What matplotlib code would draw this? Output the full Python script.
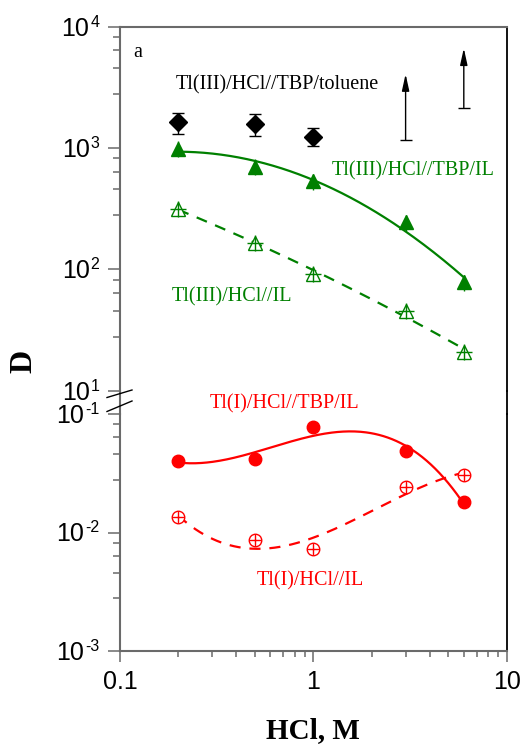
import numpy as np
import matplotlib
matplotlib.use("Agg")
import matplotlib.pyplot as plt
from matplotlib.lines import Line2D

plt.rcParams["font.family"] = ["Liberation Sans", "DejaVu Sans"]

# ---- data -------------------------------------------------------------
hcl = [0.2, 0.5, 1.0, 3.0, 6.0]

# Tl(III)/HCl//TBP/toluene (measured points, lower limits at high HCl)
tol_x = [0.2, 0.5, 1.0]
tol_d = [1630, 1570, 1240]
tol_lo = [1300, 1260, 1030]
tol_hi = [1950, 1900, 1460]
tol_lim_x = [3.0, 6.0]
tol_lim_d = [1160, 2150]
tol_lim_tip = [4070, 6640]

# Tl(III)/HCl//TBP/IL
tl3_tbp = [990, 700, 530, 245, 78]
# Tl(III)/HCl//IL
tl3_il = [315, 165, 92, 45, 21]
# Tl(I)/HCl//TBP/IL
tl1_tbp = [0.040, 0.042, 0.077, 0.049, 0.018]
# Tl(I)/HCl//IL
tl1_il = [0.0134, 0.0087, 0.0072, 0.0241, 0.0305]

top_exp = [1, 2, 3, 4]
bot_exp = [-3, -2, -1]
x_ticks = [0.1, 1, 10]
x_ticklabels = ["0.1", "1", "10"]

GREEN = "#008000"
RED = "#ff0000"
GRAY = "#6a6a6a"
W, H = 520, 748


def fx(px):
    return px / W


def fy(py):
    return 1 - py / H


fig = plt.figure(figsize=(5.2, 7.48), dpi=100)
ax_top = fig.add_axes([fx(120), fy(390.7), fx(506.7) - fx(120), fy(26.7) - fy(390.7)])
ax_bot = fig.add_axes([fx(120), fy(651), fx(506.7) - fx(120), fy(414) - fy(651)],
                      sharex=ax_top)

for ax in (ax_top, ax_bot):
    ax.set_xscale("log")
    ax.set_yscale("log")
    ax.set_xlim(0.1, 10)
    for s in ("left", "top", "bottom"):
        ax.spines[s].set_color(GRAY)
        ax.spines[s].set_linewidth(1.5)
    ax.spines["right"].set_color("black")
    ax.spines["right"].set_linewidth(1.3)
    ax.tick_params(axis="y", which="major", direction="out", length=8.5, width=1.1,
                   color=GRAY, right=False, labelleft=False)
    ax.tick_params(axis="y", which="minor", direction="out", length=5, width=1.1,
                   color=GRAY, right=False, labelleft=False)

ax_top.spines["bottom"].set_visible(False)
ax_bot.spines["top"].set_visible(False)
ax_top.set_ylim(10, 1e4)
ax_bot.set_ylim(1e-3, 1e-1)

# minor ticks sit at fixed fractions of a decade below each major tick
frac = np.array([0.085, 0.195, 0.34, 0.555])
ax_top.set_yticks([10.0 ** e for e in top_exp])
ax_top.set_yticks([10.0 ** (e - f) for e in top_exp[1:] for f in frac], minor=True)
ax_bot.set_yticks([10.0 ** e for e in bot_exp])
ax_bot.set_yticks([10.0 ** (e - f) for e in bot_exp[1:] for f in frac], minor=True)


def decade_labels(ax, exps):
    # "10" centred on the tick, small exponent raised to its right
    ytrans = ax.get_yaxis_transform()
    for e in exps:
        y = 10.0 ** e
        sup = ax.annotate(str(e), xy=(0, y), xycoords=ytrans,
                          xytext=(-15, 0), textcoords="offset points",
                          ha="right", va="baseline", fontsize=11.5)
        ax.annotate("10", xy=(0, y), xycoords=(sup, ytrans),
                    xytext=(-0.5, -6.4), textcoords="offset points",
                    ha="right", va="baseline", fontsize=18)


decade_labels(ax_top, top_exp)
decade_labels(ax_bot, bot_exp)

ax_top.tick_params(axis="x", which="both", bottom=False, top=False, labelbottom=False)
ax_bot.set_xticks(x_ticks)
ax_bot.set_xticklabels(x_ticklabels)
ax_bot.tick_params(axis="x", which="major", direction="out", length=8, width=1.1,
                   color=GRAY, labelsize=18, pad=6, top=False)
ax_bot.tick_params(axis="x", which="minor", direction="out", length=4.3, width=1.1,
                   color=GRAY, top=False)
ax_bot.xaxis.set_minor_formatter(plt.NullFormatter())

# bridge the axis lines across the break and draw the break marks
fig.add_artist(Line2D([fx(120), fx(120)], [fy(390.7), fy(414)], color=GRAY, lw=1.5))
fig.add_artist(Line2D([fx(506.7), fx(506.7)], [fy(390.7), fy(414)], color="black", lw=1.3))
fig.add_artist(Line2D([fx(107), fx(132)], [fy(397.5), fy(390)], color="black", lw=1.0))
fig.add_artist(Line2D([fx(107), fx(132)], [fy(411.5), fy(401)], color="black", lw=1.0))

# ---- smooth curves through each series (polynomials in log-log space) ----
xs = np.logspace(np.log10(hcl[0]), np.log10(hcl[-1]), 200)
lx = np.log10(hcl)


def smooth(vals, deg):
    c = np.polyfit(lx, np.log10(vals), deg)
    return 10 ** np.polyval(c, np.log10(xs))


ax_top.plot(xs, smooth(tl3_tbp, 2), color=GREEN, lw=1.6, zorder=2)
ax_top.plot(xs, smooth(tl3_il, 2), color=GREEN, lw=1.6, ls=(0, (5, 4)), zorder=2)
ax_bot.plot(xs, smooth(tl1_tbp, 3), color=RED, lw=1.6, zorder=2)
ax_bot.plot(xs, smooth(tl1_il, 3), color=RED, lw=1.6, ls=(0, (5, 4)), zorder=2)

# ---- markers -------------------------------------------------------------
tl3_tbp_err = np.array(tl3_tbp) * 0.15
ax_top.errorbar(hcl, tl3_tbp, yerr=[tl3_tbp_err, tl3_tbp_err], fmt="none",
                ecolor=GREEN, elinewidth=1.0, zorder=3)
ax_top.plot(hcl, tl3_tbp, ls="none", marker="^", ms=10.5, color=GREEN,
            mec=GREEN, zorder=4)

ax_top.plot(hcl, tl3_il, ls="none", marker="^", ms=10, mfc="white", mec=GREEN,
            mew=1.0, zorder=4)
ax_top.plot(hcl, tl3_il, ls="none", marker="+", ms=12, mec=GREEN, mew=1.0, zorder=5)

tol_err = [np.array(tol_d) - np.array(tol_lo), np.array(tol_hi) - np.array(tol_d)]
ax_top.errorbar(tol_x, tol_d, yerr=tol_err, fmt="D", ms=9, color="black",
                ecolor="black", elinewidth=1.0, capsize=4.5, capthick=1.0, zorder=4)
for x0, lo, tip in zip(tol_lim_x, tol_lim_d, tol_lim_tip):
    ax_top.annotate("", xy=(x0, tip), xytext=(x0, lo),
                    arrowprops=dict(arrowstyle="-|>,head_length=1.0,head_width=0.22",
                                    color="black", lw=1.0, shrinkA=0, shrinkB=0,
                                    mutation_scale=10))
ax_top.plot(tol_lim_x, tol_lim_d, ls="none", marker="_", ms=8, mew=1.0, color="black")

ax_bot.plot(hcl, tl1_tbp, ls="none", marker="o", ms=9, color=RED, zorder=4)
ax_bot.plot(hcl, tl1_il, ls="none", marker="o", ms=9, mfc="white", mec=RED,
            mew=1.0, zorder=4)
ax_bot.plot(hcl, tl1_il, ls="none", marker="+", ms=9, mec=RED, mew=1.0, zorder=5)

# ---- labels ---------------------------------------------------------------
serif = ["Liberation Serif", "DejaVu Serif"]
ax_top.text(0.1168, 5660, "a", family=serif, fontsize=14.5, va="baseline")
ax_top.text(0.195, 3050, "Tl(III)/HCl//TBP/toluene", family=serif, fontsize=14.5,
            va="baseline", color="black")
ax_top.text(1.245, 599, "Tl(III)/HCl//TBP/IL", family=serif, fontsize=14.5,
            va="baseline", color=GREEN)
ax_top.text(0.185, 54, "Tl(III)/HCl//IL", family=serif, fontsize=14.5,
            va="baseline", color=GREEN)
ax_bot.text(0.2925, 0.112, "Tl(I)/HCl//TBP/IL", family=serif, fontsize=14.5,
            va="baseline", color=RED)
ax_bot.text(0.5115, 0.0036, "Tl(I)/HCl//IL", family=serif, fontsize=14.5,
            va="baseline", color=RED)

fig.text(fx(313.3), fy(731), "HCl, M", family=serif, fontsize=21, fontweight="bold",
         ha="center", va="center")
fig.text(fx(24), fy(361), "D", family=serif, fontsize=23, fontweight="bold",
         ha="center", va="center", rotation=90)

fig.savefig("out.png", dpi=100)
